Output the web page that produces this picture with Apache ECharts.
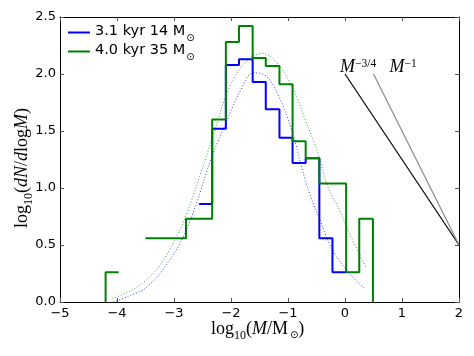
<!DOCTYPE html>
<html>
<head>
<meta charset="utf-8">
<script src="https://cdn.jsdelivr.net/npm/echarts@6/dist/echarts.min.js"></script>
<style>
  html, body { margin: 0; padding: 0; background: #fff; }
  #chart { width: 474px; height: 356px; }
</style>
</head>
<body>
<div id="chart"></div>
<script>
// histogram bin edges in log10(M/Msun)
const binEdges = [-4.20, -3.97, -3.73, -3.50, -3.26, -3.03, -2.79, -2.56, -2.33, -2.09,
                  -1.86, -1.62, -1.39, -1.15, -0.92, -0.69, -0.45, -0.22, 0.02, 0.25, 0.49];
// log10(dN/dlogM) per bin, null = empty bin
const blueHist = [null, null, null, null, null, null, null, 0.86, 1.52, 2.08,
                  2.13, 1.93, 1.69, 1.44, 1.22, 1.26, 0.56, 0.26, null, null];
const greenHist = [0.26, null, null, 0.56, 0.56, 0.56, 0.73, 0.73, 1.60, 2.28,
                   2.42, 2.14, 2.07, 1.91, 1.41, 1.26, 1.04, 1.04, 0.26, 0.73];

// dotted fits
const blueFit = [[-4.06, 0.00], [-3.80, 0.05], [-3.48, 0.13], [-3.13, 0.33], [-2.84, 0.57],
                 [-2.61, 0.86], [-2.34, 1.27], [-2.08, 1.58], [-1.85, 1.84], [-1.60, 2.01],
                 [-1.38, 1.98], [-1.15, 1.79], [-0.93, 1.50], [-0.68, 1.04], [-0.44, 0.72],
                 [-0.21, 0.45], [0.08, 0.25], [0.36, 0.11]];
const greenFit = [[-4.08, 0.03], [-3.80, 0.09], [-3.54, 0.17], [-3.25, 0.32], [-2.96, 0.57],
                  [-2.78, 0.77], [-2.55, 1.10], [-2.32, 1.45], [-2.02, 1.89], [-1.73, 2.11],
                  [-1.45, 2.18], [-1.20, 2.10], [-0.91, 1.87], [-0.70, 1.60], [-0.47, 1.30],
                  [-0.30, 1.01], [-0.09, 0.80], [0.08, 0.60], [0.36, 0.31]];

// reference slopes
const slope34 = [[0.0, 2.0], [2.0, 0.5]];
const slope1 = [[0.5, 2.0], [2.0, 0.5]];

const seriesNames = ['3.1 kyr 14 M', '4.0 kyr 35 M'];

const serif = 'Liberation Serif';
const sans = 'DejaVu Sans';

function stepPoints(values, dropToZero) {
    const pts = [];
    values.forEach((v, i) => {
        if (v === null) {
            if (pts.length && pts[pts.length - 1][1] !== '-') pts.push([binEdges[i], '-']);
            return;
        }
        pts.push([binEdges[i], v], [binEdges[i + 1], v]);
    });
    if (dropToZero) {
        pts.unshift([pts[0][0], 0]);
        pts.push([pts[pts.length - 1][0], 0]);
    }
    return pts;
}

const chart = echarts.init(document.getElementById('chart'));

const tickFmt = v => String(v).replace('-', '\u2212');
const axisLine = { show: true, onZero: false, lineStyle: { color: '#000', width: 1 } };
const axisTick = { show: true, inside: true, length: 4, lineStyle: { color: '#555', width: 1 } };

const mathRich = {
    r: { fontFamily: serif, fontSize: 18, color: '#000', lineHeight: 20, verticalAlign: 'top' },
    i: { fontFamily: serif, fontStyle: 'italic', fontSize: 18, color: '#000', lineHeight: 20, verticalAlign: 'top' },
    sub: { fontFamily: serif, fontSize: 12, color: '#000', lineHeight: 12, padding: [10, 0, 0, 0], verticalAlign: 'top' },
    odot: { fontFamily: sans, fontSize: 10, color: '#000', lineHeight: 10, padding: [10, 0, 0, 2], verticalAlign: 'top' },
    sup: { fontFamily: serif, fontSize: 11.5, color: '#000', lineHeight: 11, verticalAlign: 'top' }
};

chart.setOption({
    animation: false,
    backgroundColor: '#fff',
    grid: { left: 60, right: 15, top: 17, bottom: 54, containLabel: false },
    xAxis: [{
        type: 'value', min: -5, max: 2, interval: 1,
        axisLine: axisLine, axisTick: axisTick, splitLine: { show: false },
        axisLabel: { margin: 5, fontFamily: sans, fontSize: 13, color: '#000', formatter: tickFmt }
    }, {
        type: 'value', position: 'top', min: -5, max: 2, interval: 1,
        axisLine: axisLine, axisTick: axisTick, splitLine: { show: false },
        axisLabel: { show: false }
    }],
    yAxis: [{
        type: 'value', min: 0, max: 2.5, interval: 0.5,
        axisLine: axisLine, axisTick: axisTick, splitLine: { show: false },
        axisLabel: { margin: 4, fontFamily: sans, fontSize: 13, color: '#000', formatter: v => v.toFixed(1) }
    }, {
        type: 'value', position: 'right', min: 0, max: 2.5, interval: 0.5,
        axisLine: axisLine, axisTick: axisTick, splitLine: { show: false },
        axisLabel: { show: false }
    }],
    legend: {
        left: 63, top: 19, orient: 'vertical', itemGap: 0,
        itemWidth: 22, itemHeight: 2, icon: 'rect',
        data: seriesNames,
        formatter: name => '{t|' + name + '}{s|\u2299}',
        textStyle: {
            rich: {
                t: { fontFamily: sans, fontSize: 14.5, color: '#000', lineHeight: 17, verticalAlign: 'top' },
                s: { fontFamily: sans, fontSize: 10, color: '#000', lineHeight: 10, padding: [9, 0, 0, 1], verticalAlign: 'top' }
            }
        }
    },
    series: [{
        name: seriesNames[0], type: 'line', data: stepPoints(blueHist, false),
        symbol: 'none', color: '#0000ff', lineStyle: { width: 2, color: '#0000ff' }, z: 3
    }, {
        name: seriesNames[1], type: 'line', data: stepPoints(greenHist, true),
        symbol: 'none', color: '#008000', lineStyle: { width: 2, color: '#008000' }, z: 4
    }, {
        type: 'line', data: blueFit, smooth: 0.4, symbol: 'none',
        lineStyle: { width: 1, color: '#0000ff', opacity: 0.75, type: [1, 2] }, z: 5
    }, {
        type: 'line', data: greenFit, smooth: 0.4, symbol: 'none',
        lineStyle: { width: 1, color: '#008000', opacity: 0.75, type: [1, 2] }, z: 5
    }, {
        type: 'line', data: slope34, symbol: 'none',
        lineStyle: { width: 1.2, color: '#000' }, z: 6
    }, {
        type: 'line', data: slope1, symbol: 'none',
        lineStyle: { width: 1.2, color: '#8c8c8c' }, z: 6
    }]
});

const p34 = chart.convertToPixel({ gridIndex: 0 }, slope34[0]);
const p1 = chart.convertToPixel({ gridIndex: 0 }, slope1[0]);

chart.setOption({
    graphic: [{
        type: 'text', left: 211, top: 320,
        style: {
            text: '{r|log}{sub|10}{r|(}{i|M}{r|/M}{odot|\u2299}{r|)}',
            rich: mathRich
        }
    }, {
        type: 'text', x: 23, y: 168, rotation: Math.PI / 2,
        style: {
            text: '{r|log}{sub|10}{r|(}{i|dN}{r|/}{i|d}{r|log}{i|M}{r|)}',
            rich: mathRich, align: 'center', verticalAlign: 'middle'
        }
    }, {
        type: 'text', x: p34[0] - 5, y: p34[1] - 16,
        style: {
            text: '{i|M}{sup|\u22123/4}',
            rich: mathRich
        }
    }, {
        type: 'text', x: p1[0] + 16, y: p1[1] - 16,
        style: {
            text: '{i|M}{sup|\u22121}',
            rich: mathRich
        }
    }]
});
</script>
</body>
</html>
